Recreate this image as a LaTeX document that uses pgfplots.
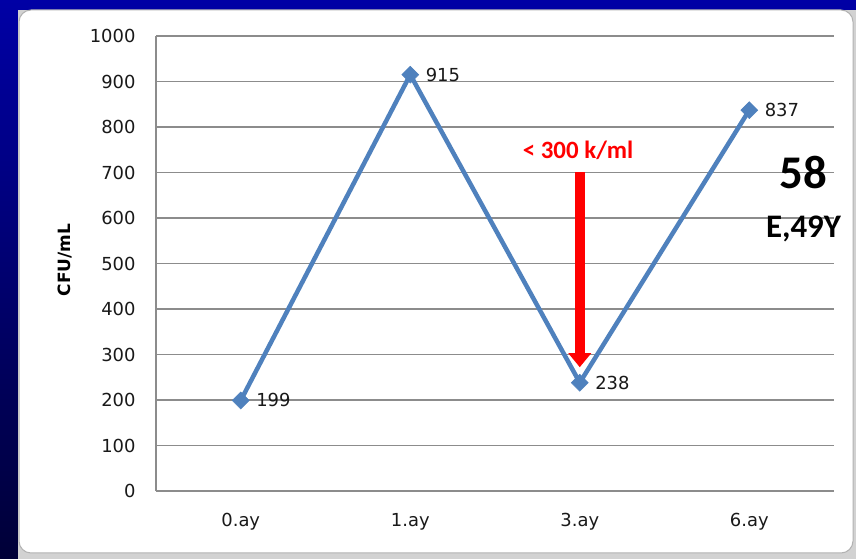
\documentclass[border=0pt]{standalone}
\usepackage{fontspec}
\setmainfont{DejaVu Sans}
\newfontfamily\calib{Carlito}
\usepackage{pgfplots}
\pgfplotsset{compat=1.18}
\usetikzlibrary{arrows.meta}
\definecolor{serblue}{RGB}{79,129,189}
\definecolor{gridgray}{RGB}{140,140,140}
\definecolor{bgtop}{RGB}{0,0,165}
\definecolor{bgbot}{RGB}{0,0,55}
\begin{document}
\begin{tikzpicture}[x=1bp,y=1bp]
\useasboundingbox (0,0) rectangle (856,559);
\shade[top color=bgtop, bottom color=bgbot] (0,0) rectangle (856,559);
\fill[gray!35] (18,0) rectangle (856,549);
\filldraw[fill=white, draw=gray!60, line width=1bp, rounded corners=12bp] (19,6) rectangle (853,549);
\begin{axis}[
  at={(156bp,68bp)}, anchor=south west,
  scale only axis, width=678bp, height=455bp,
  xmin=-0.5, xmax=3.5, ymin=0, ymax=1000,
  axis lines=left,
  every non boxed x axis/.style={}, every non boxed y axis/.style={},
  axis line style={draw=gridgray, line width=1.3bp, -},
  xtick={0,1,2,3}, xticklabels={0.ay,1.ay,3.ay,6.ay},
  ytick={0,100,...,1000},
  major tick length=0pt,
  ymajorgrids, grid style={gridgray, line width=1.3bp},
  tick label style={font=\fontsize{18}{20}\selectfont, text=black!90},
  /pgf/number format/assume math mode=true,
  /pgf/number format/set thousands separator={},
  xticklabel style={yshift=-19bp},
  yticklabel style={xshift=-17bp},
  ylabel={CFU/mL},
  ylabel style={font=\bfseries\fontsize{17}{19}\selectfont, at={(axis description cs:-0.134,0.508)}, anchor=center},
  clip=false,
]
\draw[red, line width=10bp, -{Triangle[width=22bp,length=14bp]}] (axis cs:2,700) -- (axis cs:2,272);
\addplot[serblue, line width=4.5bp, mark=square*, mark size=6bp, mark options={rotate=45, fill=serblue, draw=serblue, line width=0.5bp},
  nodes near coords, point meta=explicit symbolic,
  every node near coord/.append style={anchor=west, xshift=12bp, font=\fontsize{18}{20}\selectfont, text=black!90}]
coordinates {(0,199)[199] (1,915)[915] (2,238)[238] (3,837)[837]};
\node[red, font=\calib\bfseries\fontsize{25}{28}\selectfont, anchor=base] at (axis cs:1.99,730) {< 300 k/ml};
\node[font=\calib\bfseries\fontsize{47}{50}\selectfont, anchor=center] at (axis cs:3.32,699) {58};
\node[font=\calib\bfseries\fontsize{33}{36}\selectfont, anchor=base] at (axis cs:3.32,558) {E,49Y};
\end{axis}
\end{tikzpicture}
\end{document}
